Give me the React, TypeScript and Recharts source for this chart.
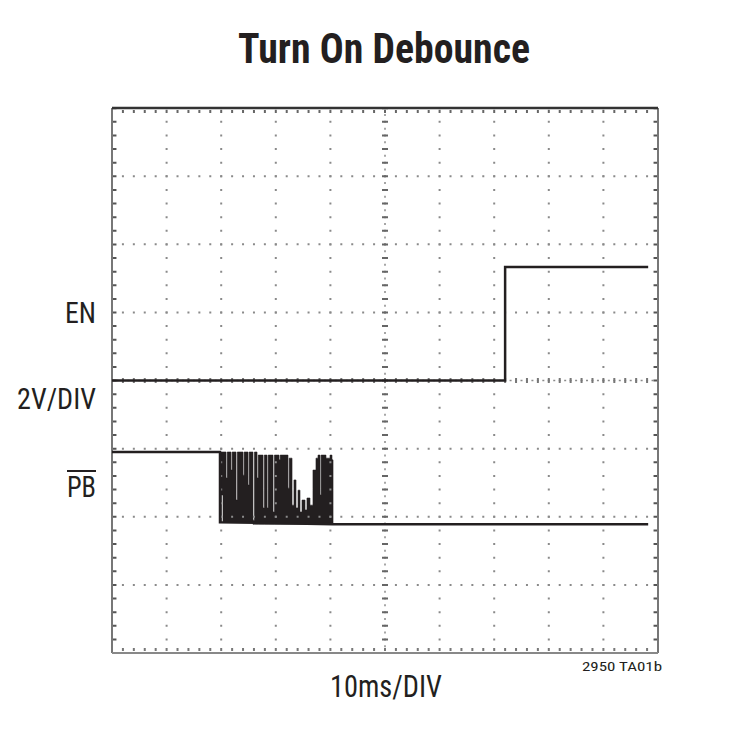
import { ComposedChart, Line, Area, XAxis, YAxis, ReferenceLine } from "recharts";

// time in ms (10ms/DIV, 10 divisions), level in V (2V/DIV, 8 divisions, centre = 0)
const EN_TIME = [0, 72.0, 72.0, 98.2];
const EN_LEVEL = [0.0, 0.0, 3.33, 3.33];

const PB_TIME = [0, 19.78, 19.78, 40.48, 98.2];
const PB_LEVEL = [-2.1, -2.1, -4.16, -4.22, -4.22];

// contact bounce: per sample the lowest and highest level the trace touched
const BOUNCE_TIME = [
  19.78, 20.05, 20.33, 20.88, 21.1, 21.79, 22.0, 22.71, 22.95, 23.99, 24.2, 24.91,
  25.12, 25.82, 26.1, 26.56, 26.78, 27.66, 27.9, 28.39, 28.6, 29.49, 29.75, 30.59,
  30.8, 32.23, 32.45, 32.97, 33.33, 33.7, 34.07, 34.43, 34.8, 35.35, 35.71, 36.26,
  36.81, 37.36, 37.73, 38.1, 38.3, 39.19, 39.93, 40.29, 40.48,
];
const BOUNCE_HIGH = [
  -2.1, -2.1, -2.1, -2.86, -2.1, -2.63, -2.1, -3.51, -2.1, -2.78, -2.1, -3.07,
  -2.1, -4.1, -2.1, -2.86, -2.19, -3.74, -2.19, -3.74, -2.19, -3.86, -2.19, -2.33,
  -2.19, -3.16, -2.28, -3.66, -2.92, -3.74, -3.22, -3.86, -3.51, -3.8, -3.45, -3.66,
  -2.63, -2.28, -2.19, -3.36, -2.19, -2.28, -2.19, -2.33, -4.22,
];
const BOUNCE_LOW = [
  -4.16, -3.36, -4.16, -4.16, -4.16, -4.16, -4.16, -4.16, -4.16, -4.16, -4.16, -4.16,
  -4.16, -4.22, -4.22, -4.22, -4.22, -4.22, -4.22, -4.22, -4.22, -4.22, -4.22, -4.22,
  -4.22, -4.22, -4.22, -4.22, -4.22, -4.22, -4.22, -4.22, -4.22, -4.22, -4.22, -4.22,
  -4.22, -4.22, -4.22, -4.22, -4.22, -4.22, -4.22, -4.22, -4.22,
];

const X_GRID = [10, 20, 30, 40, 60, 70, 80, 90];
const Y_GRID = [-6, -4, -2, 2, 4, 6];

const enData = EN_TIME.map((t, i) => ({ t, v: EN_LEVEL[i] }));
const pbData = PB_TIME.map((t, i) => ({ t, v: PB_LEVEL[i] }));
const bounceData = BOUNCE_TIME.map((t, i) => ({ t, band: [BOUNCE_LOW[i], BOUNCE_HIGH[i]] }));

const INK = "#231f20";
const DOT = "#8a8a8a";
const FONT = '"Liberation Sans Narrow", "Roboto Condensed", "DejaVu Sans Condensed", "Liberation Sans", sans-serif';

// plot box is 546 x 545 px -> minor division 10.92 px across, 13.62 px down
const V_DOTS = "2 11.62";
const H_DOTS = "2 8.92";

export default function App() {
  return (
    <div style={{ position: "absolute", left: 0, top: 0, width: 730, height: 740, background: "#fff" }}>
      <ComposedChart
        width={730}
        height={740}
        margin={{ top: 108, right: 72, bottom: 87, left: 112 }}
      >
        <XAxis type="number" dataKey="t" domain={[0, 100]} hide allowDataOverflow />
        <YAxis type="number" domain={[-8, 8]} hide allowDataOverflow />

        {X_GRID.map((x) => (
          <ReferenceLine key={`vx${x}`} x={x} stroke={DOT} strokeWidth={2} strokeDasharray={V_DOTS} strokeDashoffset={1} />
        ))}
        {Y_GRID.map((y) => (
          <ReferenceLine key={`hy${y}`} y={y} stroke={DOT} strokeWidth={2} strokeDasharray={H_DOTS} strokeDashoffset={1} />
        ))}

        {/* centre graticule with minor ticks */}
        <ReferenceLine x={50} stroke={DOT} strokeWidth={1.5} strokeDasharray="2 4.81" strokeDashoffset={1} />
        <ReferenceLine x={50} stroke="#666" strokeWidth={6} strokeDasharray={V_DOTS} strokeDashoffset={1} />
        <ReferenceLine y={0} stroke={DOT} strokeWidth={1.5} strokeDasharray="2 3.46" strokeDashoffset={1} />
        <ReferenceLine y={0} stroke="#777" strokeWidth={5} strokeDasharray={H_DOTS} strokeDashoffset={1} />

        {/* frame ticks */}
        <ReferenceLine x={0.45} stroke="#555" strokeWidth={4} strokeDasharray={V_DOTS} strokeDashoffset={1} />
        <ReferenceLine x={99.55} stroke="#555" strokeWidth={4} strokeDasharray={V_DOTS} strokeDashoffset={1} />
        <ReferenceLine y={7.9} stroke="#666" strokeWidth={3} strokeDasharray={H_DOTS} strokeDashoffset={1} />
        <ReferenceLine y={-7.9} stroke="#777" strokeWidth={3} strokeDasharray={H_DOTS} strokeDashoffset={1} />

        {/* frame */}
        <ReferenceLine x={0} stroke="#777" strokeWidth={2} />
        <ReferenceLine x={100} stroke="#777" strokeWidth={2} />
        <ReferenceLine y={8} stroke="#333" strokeWidth={2.5} />
        <ReferenceLine y={-8} stroke="#888" strokeWidth={2} />

        <Area
          data={bounceData}
          dataKey="band"
          type="stepAfter"
          fill={INK}
          fillOpacity={1}
          stroke={INK}
          strokeWidth={0.6}
          isAnimationActive={false}
          dot={false}
          activeDot={false}
        />
        <Line
          data={pbData}
          dataKey="v"
          type="linear"
          stroke={INK}
          strokeWidth={2.5}
          dot={false}
          activeDot={false}
          isAnimationActive={false}
        />
        <Line
          data={enData}
          dataKey="v"
          type="linear"
          stroke={INK}
          strokeWidth={2.5}
          dot={false}
          activeDot={false}
          isAnimationActive={false}
        />
      </ComposedChart>

      <svg
        width={730}
        height={740}
        style={{ position: "absolute", left: 0, top: 0, pointerEvents: "none" }}
      >
        <g fill={INK} fontFamily={FONT}>
          <text x={384} y={63} fontSize={43} fontWeight="bold" textAnchor="middle" textLength={292} lengthAdjust="spacingAndGlyphs">
            Turn On Debounce
          </text>
          <text x={96} y={323} fontSize={29} textAnchor="end" textLength={31} lengthAdjust="spacingAndGlyphs">
            EN
          </text>
          <text x={96} y={409} fontSize={29} textAnchor="end" textLength={79} lengthAdjust="spacingAndGlyphs">
            2V/DIV
          </text>
          <text x={96} y={497} fontSize={29} textAnchor="end" textLength={29} lengthAdjust="spacingAndGlyphs">
            PB
          </text>
          <text x={386} y={697} fontSize={32} textAnchor="middle" textLength={112} lengthAdjust="spacingAndGlyphs">
            10ms/DIV
          </text>
          <text x={662} y={671} fontSize={13} textAnchor="end" textLength={80} lengthAdjust="spacingAndGlyphs">
            2950 TA01b
          </text>
        </g>
        <line x1={67} x2={96} y1={471} y2={471} stroke={INK} strokeWidth={2} />
      </svg>
    </div>
  );
}
